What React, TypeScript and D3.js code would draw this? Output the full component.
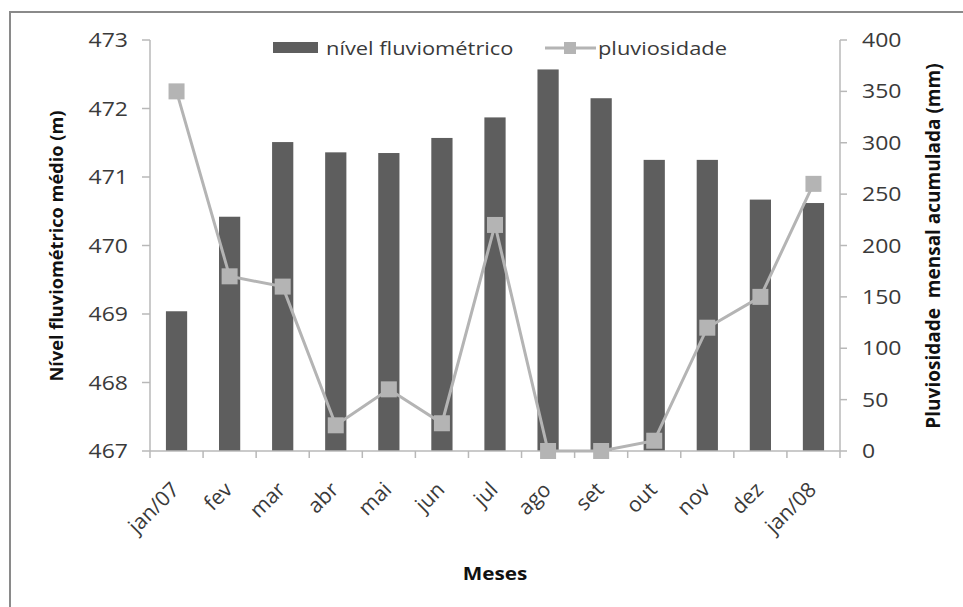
import React from "react";
import * as d3 from "d3";

const months = ["jan/07", "fev", "mar", "abr", "mai", "jun", "jul", "ago", "set", "out", "nov", "dez", "jan/08"];
const nivel = [469.04, 470.42, 471.51, 471.36, 471.35, 471.57, 471.87, 472.57, 472.15, 471.25, 471.25, 470.67, 470.62];
const pluviosidade = [350, 170, 160, 25, 60, 27, 220, 0, 0, 10, 120, 150, 260];
const leftTicks = [467, 468, 469, 470, 471, 472, 473];
const rightTicks = [0, 50, 100, 150, 200, 250, 300, 350, 400];

const W = 963;
const H = 607;
const FONT = "'Open Sans', Lato, sans-serif";
const BAR = "#5e5e5e";
const LINE = "#b4b4b4";
const AXIS = "#b8b8b8";
const TEXT = "#3a3a3a";
// horizontal stretch applied to upright text
const SX = 1.15;

function HText(props: { x: number; y: number; anchor?: string; size: number; bold?: boolean; fill?: string; children: React.ReactNode }) {
  const { x, y, anchor = "start", size, bold, fill = TEXT, children } = props;
  return (
    <text
      transform={`translate(${x},${y}) scale(${SX},1)`}
      textAnchor={anchor}
      dy="0.35em"
      fontSize={size}
      fontWeight={bold ? "bold" : "normal"}
      fill={fill}
    >
      {children}
    </text>
  );
}

export default function App() {
  const left = 150, right = 840, top = 40, bottom = 451;
  const x = d3.scaleBand<string>().domain(months).range([left, right]).paddingInner(0.6).paddingOuter(0.3);
  const xb = d3.scaleBand<string>().domain(months).range([left, right]);
  const yL = d3.scaleLinear().domain([467, 473]).range([bottom, top]);
  const yR = d3.scaleLinear().domain([0, 400]).range([bottom, top]);
  const line = d3.line<number>()
    .x((_, i) => (xb(months[i]) as number) + xb.bandwidth() / 2)
    .y((d) => yR(d));
  const ms = 16;

  return (
    <svg width={W} height={H} style={{ position: "absolute", left: 0, top: 0, background: "#fff" }} fontFamily={FONT}>
      <rect x={10} y={12} width={W + 10} height={H + 10} fill="#fff" stroke="#8a8a8a" strokeWidth={2} />

      {/* bars */}
      {nivel.map((v, i) => (
        <rect key={months[i]} x={x(months[i])} y={yL(v)} width={x.bandwidth()} height={bottom - yL(v)} fill={BAR} />
      ))}

      {/* left axis */}
      <line x1={left} x2={left} y1={top} y2={bottom} stroke={AXIS} strokeWidth={1.5} />
      {leftTicks.map((t) => (
        <g key={t}>
          <line x1={left - 8} x2={left} y1={yL(t)} y2={yL(t)} stroke={AXIS} strokeWidth={1.5} />
          <HText x={left - 22} y={yL(t)} anchor="end" size={20}>{t}</HText>
        </g>
      ))}

      {/* right axis */}
      <line x1={right} x2={right} y1={top} y2={bottom} stroke={AXIS} strokeWidth={1.5} />
      {rightTicks.map((t) => (
        <g key={t}>
          <line x1={right} x2={right + 7} y1={yR(t)} y2={yR(t)} stroke={AXIS} strokeWidth={1.5} />
          <HText x={right + 22} y={yR(t)} size={20}>{t}</HText>
        </g>
      ))}

      {/* x axis */}
      <line x1={left} x2={right} y1={bottom} y2={bottom} stroke={AXIS} strokeWidth={1.5} />
      {months.map((m) => (
        <line key={m} x1={xb(m) as number} x2={xb(m) as number} y1={bottom} y2={bottom + 7} stroke={AXIS} strokeWidth={1.5} />
      ))}
      <line x1={right} x2={right} y1={bottom} y2={bottom + 7} stroke={AXIS} strokeWidth={1.5} />
      {months.map((m) => {
        const cx = (xb(m) as number) + xb.bandwidth() / 2 + 4;
        const cy = bottom + 40;
        return (
          <text key={m} transform={`translate(${cx},${cy}) rotate(-45)`} textAnchor="end" fontSize={21} fill={TEXT}>{m}</text>
        );
      })}

      {/* pluviosidade line */}
      <path d={line(pluviosidade) || ""} fill="none" stroke={LINE} strokeWidth={3} />
      {pluviosidade.map((v, i) => (
        <rect key={i} x={(xb(months[i]) as number) + xb.bandwidth() / 2 - ms / 2} y={yR(v) - ms / 2} width={ms} height={ms} fill={LINE} />
      ))}

      {/* legend */}
      <rect x={273} y={42} width={45} height={11} fill={BAR} />
      <HText x={326} y={48} size={19}>nível fluviométrico</HText>
      <line x1={545} x2={596} y1={48} y2={48} stroke={LINE} strokeWidth={3} />
      <rect x={564} y={42} width={12} height={12} fill={LINE} />
      <HText x={598} y={48} size={19}>pluviosidade</HText>

      {/* titles */}
      <text transform="translate(57,246) rotate(-90)" textAnchor="middle" dy="0.35em" fontSize={18.2} fontWeight="bold" fill="#111">Nível fluviométrico médio (m)</text>
      <text transform="translate(933,246) rotate(-90)" textAnchor="middle" dy="0.35em" fontSize={19} fontWeight="bold" fill="#111" style={{ whiteSpace: "pre" }}>Pluviosidade  mensal acumulada (mm)</text>
      <HText x={495} y={574} anchor="middle" size={18} bold fill="#111">Meses</HText>
    </svg>
  );
}
